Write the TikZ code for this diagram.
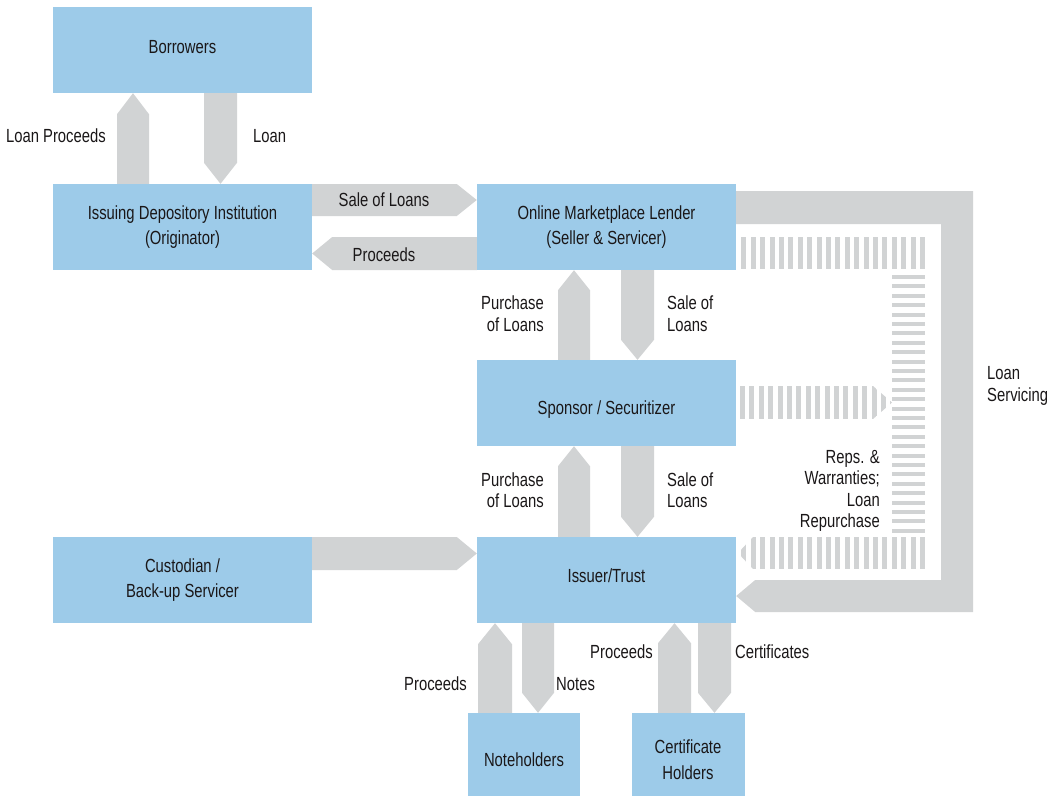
\documentclass[tikz,border=0pt]{standalone}
\usepackage{fontspec}
\setmainfont{Liberation Sans}[FakeStretch=0.78]
\usetikzlibrary{calc}
\definecolor{boxblue}{HTML}{9DCBE9}
\definecolor{arrgray}{HTML}{D1D3D4}
\definecolor{txt}{HTML}{1A1718}
\tikzset{
  box/.style={fill=boxblue, draw=none, inner sep=0pt, minimum width=259pt, minimum height=86pt, align=center, text=txt, font=\fontsize{19}{25.5}\selectfont},
  smallbox/.style={box, minimum width=113pt, minimum height=83pt},
  lbl/.style={inner sep=0pt, text=txt, font=\fontsize{19}{21.5}\selectfont},
  arr/.style={fill=arrgray, draw=none},
}
% shift text inside a box without moving the box
\newcommand\shifted[2]{\raisebox{#1}[\height][\depth]{\begin{tabular}{@{}c@{}}#2\end{tabular}}}
% block arrows between named nodes
\newcommand\blkup[5]{% xl, xr, lower node, upper node, head
  \fill[arr] let \p1=(#3.north), \p2=(#4.south) in
    (#1pt,\y1) -- (#1pt,\y2-#5pt) -- ({(#1+#2)/2*1pt},\y2) -- (#2pt,\y2-#5pt) -- (#2pt,\y1) -- cycle;}
\newcommand\blkdown[5]{% xl, xr, upper node, lower node, head
  \fill[arr] let \p1=(#3.south), \p2=(#4.north) in
    (#1pt,\y1) -- (#1pt,\y2+#5pt) -- ({(#1+#2)/2*1pt},\y2) -- (#2pt,\y2+#5pt) -- (#2pt,\y1) -- cycle;}
\newcommand\blkright[5]{% yt, yb, left node, right node, head
  \fill[arr] let \p1=(#3.east), \p2=(#4.west) in
    (\x1,-#1pt) -- (\x2-#5pt,-#1pt) -- (\x2,{-(#1+#2)/2*1pt}) -- (\x2-#5pt,-#2pt) -- (\x1,-#2pt) -- cycle;}
\newcommand\blkleft[5]{% yt, yb, right node, left node, head
  \fill[arr] let \p1=(#3.west), \p2=(#4.east) in
    (\x1,-#1pt) -- (\x2+#5pt,-#1pt) -- (\x2,{-(#1+#2)/2*1pt}) -- (\x2+#5pt,-#2pt) -- (\x1,-#2pt) -- cycle;}
\begin{document}
\begin{tikzpicture}[x=1pt,y=-1pt]
\useasboundingbox (0,0) rectangle (1053,796);
\fill[white] (0,0) rectangle (1053,796);

% boxes
\node[box] (bor) at (182.5,50) {\shifted{2pt}{Borrowers}};
\node[box] (idi) at (182.5,227) {Issuing Depository Institution\\(Originator)};
\node[box] (oml) at (606.5,227) {Online Marketplace Lender\\(Seller \& Servicer)};
\node[box] (spo) at (606.5,403) {\shifted{-6pt}{Sponsor / Securitizer}};
\node[box] (cus) at (182.5,580) {Custodian /\\Back-up Servicer};
\node[box] (iss) at (606.5,580) {\shifted{3pt}{Issuer/Trust}};
\node[smallbox, minimum width=112pt] (noh) at (524,754.5) {\shifted{-7pt}{Noteholders}};
\node[smallbox] (cer) at (688,754.5) {\shifted{-7pt}{Certificate\\Holders}};

% solid block arrows
\blkup{117}{149}{idi}{bor}{21}
\blkdown{204}{237}{bor}{idi}{21}
\blkright{184}{216}{idi}{oml}{20}
\blkleft{237}{270}{oml}{idi}{20}
\blkup{558}{590}{spo}{oml}{20}
\blkdown{621}{654}{oml}{spo}{20}
\blkup{558}{590}{iss}{spo}{20}
\blkdown{621}{654}{spo}{iss}{20}
\blkright{537}{570}{cus}{iss}{20}
\blkup{478}{512}{noh}{iss}{21}
\blkdown{522}{554}{iss}{noh}{20}
\blkup{658}{691}{cer}{iss}{20}
\blkdown{698}{731}{iss}{cer}{20}

% loan servicing loop
\fill[arr] let \p1=(oml.east), \p2=(iss.east) in
  (\x1,-191pt) -- (973pt,-191pt) -- (973pt,-612pt) -- (\x2+19pt,-612pt) -- (\x2,-596pt)
  -- (\x2+19pt,-580pt) -- (941pt,-580pt) -- (941pt,-224pt) -- (\x1,-224pt) -- cycle;

% striped: reps & warranties
\begin{scope}
  \clip (736,237) rectangle (925,269);
  \foreach \i in {0,...,19} { \fill[arr] ({920-9.4*\i},237) rectangle ({925-9.4*\i},269); }
\end{scope}
\begin{scope}
  \clip (892,270) rectangle (925,534);
  \foreach \j in {0,...,27} { \fill[arr] (892,{275+9.4*\j}) rectangle (925,{279+9.4*\j}); }
\end{scope}
\begin{scope}
  \clip (spo.east |- 0,386) -- (873,386) -- (892,402.5) -- (873,419) -- (spo.east |- 0,419) -- cycle;
  \foreach \i in {0,...,16} { \fill[arr] ({740+9.4*\i},386) rectangle ({745+9.4*\i},419); }
\end{scope}
\begin{scope}
  \clip (925,537) -- (753,537) -- (738,553) -- (753,569) -- (925,569) -- cycle;
  \foreach \i in {0,...,19} { \fill[arr] ({920-9.4*\i},537) rectangle ({925-9.4*\i},569); }
\end{scope}

% labels
\node[lbl, anchor=east] (l1) at (106,136) {Loan Proceeds};
\node[lbl, anchor=west] (l2) at (253,136) {Loan};
\node[lbl] (l3) at (384,200) {Sale of Loans};
\node[lbl] (l4) at (384,255) {Proceeds};
\node[lbl, anchor=east, align=right] (l5) at (544,313.5) {Purchase\\of Loans};
\node[lbl, anchor=west, align=left] (l6) at (667,313.5) {Sale of\\Loans};
\node[lbl, anchor=east, align=right] (l7) at (544,490) {Purchase\\of Loans};
\node[lbl, anchor=west, align=left] (l8) at (667,490) {Sale of\\Loans};
\node[lbl, anchor=west, align=left] (l9) at (987,386) {Loan\\Servicing};
\node[lbl, anchor=east, align=right] (l10) at (880,491) {Reps. \&\\Warranties;\\Loan\\Repurchase};
\node[lbl, anchor=east] (l11) at (467,684) {Proceeds};
\node[lbl, anchor=west] (l12) at (556,684) {Notes};
\node[lbl, anchor=east] (l13) at (653,652) {Proceeds};
\node[lbl, anchor=west] (l14) at (735,652) {Certificates};
\end{tikzpicture}
\end{document}
